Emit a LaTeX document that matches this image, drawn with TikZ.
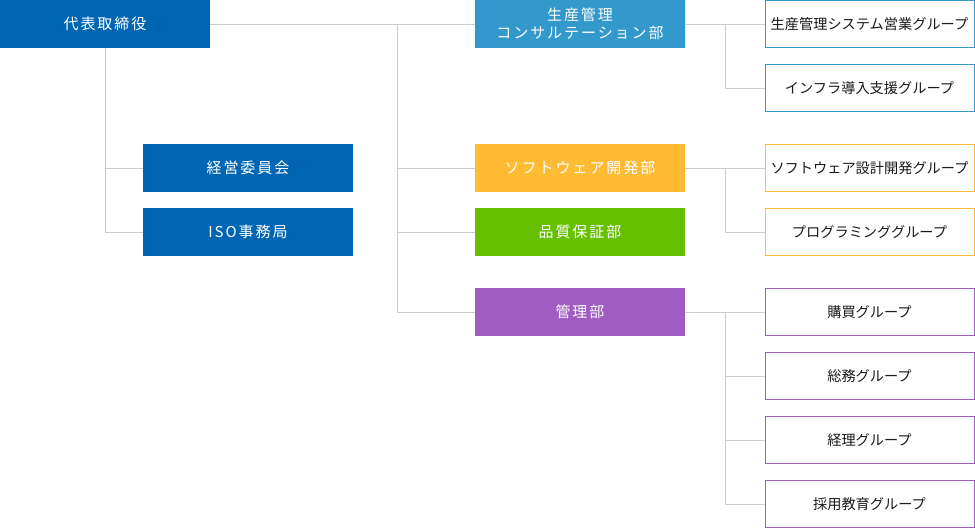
\documentclass[tikz,border=0pt]{standalone}
\usepackage{fontspec}
\setmainfont{Noto Sans CJK JP}
\newfontfamily\wfont[LetterSpace=13]{Noto Sans CJK JP}
\newfontfamily\gfont{Noto Sans CJK JP}
\definecolor{ceoblue}{HTML}{0066B3}
\definecolor{lblue}{HTML}{3399CC}
\definecolor{orng}{HTML}{FFBB33}
\definecolor{grn}{HTML}{66BF00}
\definecolor{purp}{HTML}{A05CC0}
\definecolor{lineg}{HTML}{CCCCCC}
\definecolor{txt}{HTML}{1A1A1A}
\begin{document}
\begin{tikzpicture}[x=1pt,y=-1pt,
  fillbox/.style={fill=#1, draw=none, text=white, minimum width=210pt, minimum height=48pt, inner sep=0pt, align=center, font=\wfont\fontsize{15}{18}\selectfont},
  grpbox/.style={fill=white, draw=#1, line width=1pt, text=txt, minimum width=209pt, minimum height=46.5pt, inner sep=0pt, align=center, font=\gfont\fontsize{14.2}{18}\selectfont},
  conn/.style={draw=lineg, line width=1pt}]
\useasboundingbox (0,0) rectangle (975,528);
% left column
\node[fillbox=ceoblue] (ceo) at (105,24) {代表取締役};
\node[fillbox=ceoblue] (keiei) at (248,168) {経営委員会};
\node[fillbox=ceoblue] (iso) at (248,232) {ISO事務局};
% departments
\node[fillbox=lblue] (seisan) at (580,24) {生産管理\\コンサルテーション部};
\node[fillbox=orng] (soft) at (580,168) {ソフトウェア開発部};
\node[fillbox=grn] (qa) at (580,232) {品質保証部};
\node[fillbox=purp] (kanri) at (580,312) {管理部};
% groups
\node[grpbox=lblue] (g1) at (869.5,24) {生産管理システム営業グループ};
\node[grpbox=lblue] (g2) at (869.5,88) {インフラ導入支援グループ};
\node[grpbox=orng] (g3) at (869.5,168) {ソフトウェア設計開発グループ};
\node[grpbox=orng] (g4) at (869.5,232) {プログラミンググループ};
\node[grpbox=purp] (g5) at (869.5,312) {購買グループ};
\node[grpbox=purp] (g6) at (869.5,376) {総務グループ};
\node[grpbox=purp] (g7) at (869.5,440) {経理グループ};
\node[grpbox=purp] (g8) at (869.5,504) {採用教育グループ};
% junctions
\coordinate (j1) at (397,24);
\coordinate (j2) at (725,24);
\coordinate (j3) at (725,168);
\coordinate (j4) at (725,312);
% connectors
\draw[conn] (ceo.south) |- (iso.west);
\draw[conn] (ceo.south |- keiei.west) -- (keiei.west);
\draw[conn] (ceo.east) -- (seisan.west);
\draw[conn] (j1) |- (kanri.west);
\draw[conn] (j1 |- soft.west) -- (soft.west);
\draw[conn] (j1 |- qa.west) -- (qa.west);
\draw[conn] (seisan.east) -- (g1.west);
\draw[conn] (j2) |- (g2.west);
\draw[conn] (soft.east) -- (g3.west);
\draw[conn] (j3) |- (g4.west);
\draw[conn] (kanri.east) -- (g5.west);
\draw[conn] (j4) |- (g8.west);
\draw[conn] (j4 |- g6.west) -- (g6.west);
\draw[conn] (j4 |- g7.west) -- (g7.west);
\end{tikzpicture}
\end{document}
